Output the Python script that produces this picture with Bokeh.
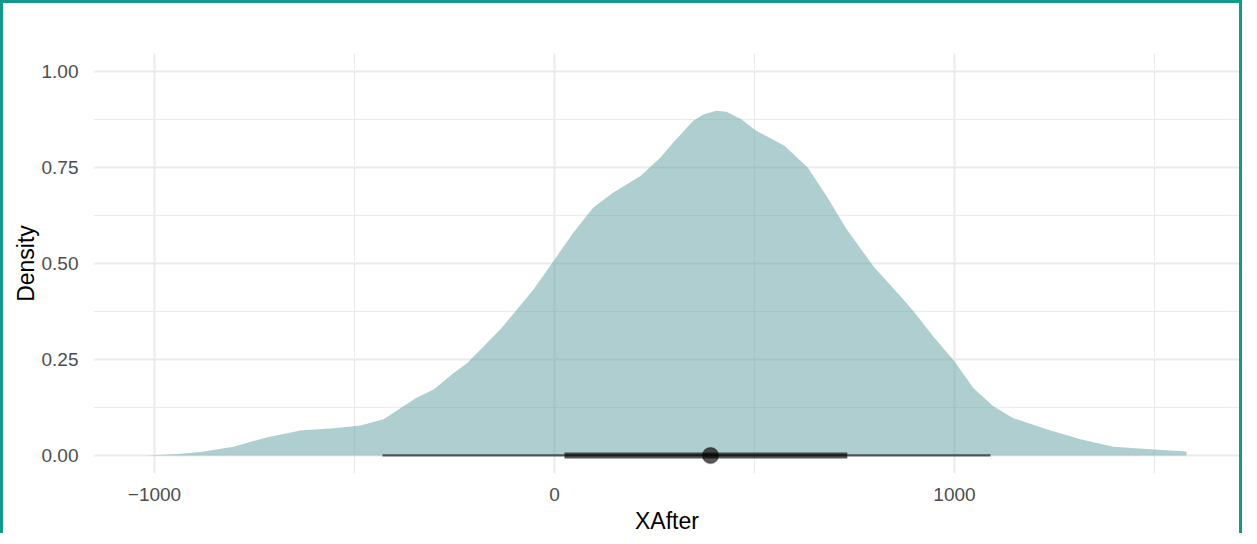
from bokeh.plotting import figure
from bokeh.models import Range1d, FixedTicker
from bokeh.embed import file_html
from bokeh.resources import INLINE

# ---- data ----
density_x = [-1025, -950, -885, -802, -720, -635, -552, -485, -427, -345, -302, -252, -218,
             -135, -52, 0, 47, 97, 147, 215, 265, 297, 347, 372, 404, 430, 467, 504, 575,
             633, 680, 730, 797, 865, 897, 947, 1000, 1047, 1097, 1147, 1230, 1315, 1397,
             1480, 1580]
density_y = [0.0, 0.003, 0.009, 0.023, 0.047, 0.065, 0.071, 0.078, 0.094, 0.15, 0.172, 0.215, 0.241,
             0.329, 0.433, 0.51, 0.58, 0.646, 0.685, 0.728, 0.776, 0.815, 0.872, 0.888, 0.898, 0.895,
             0.876, 0.846, 0.807, 0.75, 0.676, 0.59, 0.493, 0.415, 0.376, 0.31, 0.245, 0.176,
             0.128, 0.097, 0.068, 0.042, 0.023, 0.017, 0.01]
interval_95 = [-430, 1090]
interval_66 = [25, 732]
point_estimate = 390

x_ticks = [-1000, 0, 1000]
x_minor = [-1500, -500, 500, 1500]
x_labels = {-1000: "\u22121000", 0: "0", 1000: "1000"}
y_ticks = [0.0, 0.25, 0.5, 0.75, 1.0]
y_minor = [0.125, 0.375, 0.625, 0.875]
y_labels = {0.0: "0.00", 0.25: "0.25", 0.5: "0.50", 0.75: "0.75", 1.0: "1.00"}

p = figure(width=1242, height=533, output_backend="svg", toolbar_location=None,
           x_range=Range1d(-1152.5, 1715), y_range=Range1d(-0.047, 1.047),
           min_border_left=90, min_border_right=5, min_border_top=50, min_border_bottom=63)
p.styles = {"border-left": "3px solid #13998b", "border-top": "3px solid #13998b",
            "border-right": "3px solid #13998b"}
p.outline_line_color = None
p.background_fill_color = "white"
p.border_fill_color = "white"

# grid
p.xgrid.ticker = FixedTicker(ticks=x_ticks, minor_ticks=x_minor)
p.ygrid.ticker = FixedTicker(ticks=y_ticks, minor_ticks=y_minor)
for g in (p.xgrid, p.ygrid):
    g.grid_line_color = "#ebebeb"
    g.grid_line_width = 2
    g.minor_grid_line_color = "#ebebeb"
    g.minor_grid_line_width = 1.2

p.varea(x=density_x, y1=[0] * len(density_x), y2=density_y,
        fill_color="#5f9ea0", fill_alpha=0.5)

p.segment(x0=[interval_95[0]], y0=[0], x1=[interval_95[1]], y1=[0],
          line_color="black", line_alpha=0.6, line_width=2.2)
p.segment(x0=[interval_66[0]], y0=[0], x1=[interval_66[1]], y1=[0],
          line_color="black", line_alpha=0.65, line_width=6)
p.scatter(x=[point_estimate], y=[0], size=16, fill_color="black", fill_alpha=0.65,
          line_color="black", line_alpha=0.3, line_width=1.5)

# axes
p.xaxis.ticker = FixedTicker(ticks=x_ticks)
p.yaxis.ticker = FixedTicker(ticks=y_ticks)
p.xaxis.major_label_overrides = x_labels
p.yaxis.major_label_overrides = y_labels
for ax in (p.xaxis, p.yaxis):
    ax.axis_line_color = None
    ax.major_tick_line_color = None
    ax.minor_tick_line_color = None
    ax.major_label_text_font = "Liberation Sans"
    ax.major_label_text_font_size = "19px"
    ax.major_label_text_color = "#4d4d4d"
    ax.axis_label_text_font = "Liberation Sans"
    ax.axis_label_text_font_size = "23px"
    ax.axis_label_text_font_style = "normal"
    ax.axis_label_text_color = "black"
p.xaxis.axis_label = "XAfter"
p.yaxis.axis_label = "Density"
p.xaxis.major_label_standoff = 8
p.xaxis.axis_label_standoff = 4
p.yaxis.major_label_standoff = 9
p.yaxis.axis_label_standoff = 0

open("out.html", "w").write(file_html(p, INLINE))
